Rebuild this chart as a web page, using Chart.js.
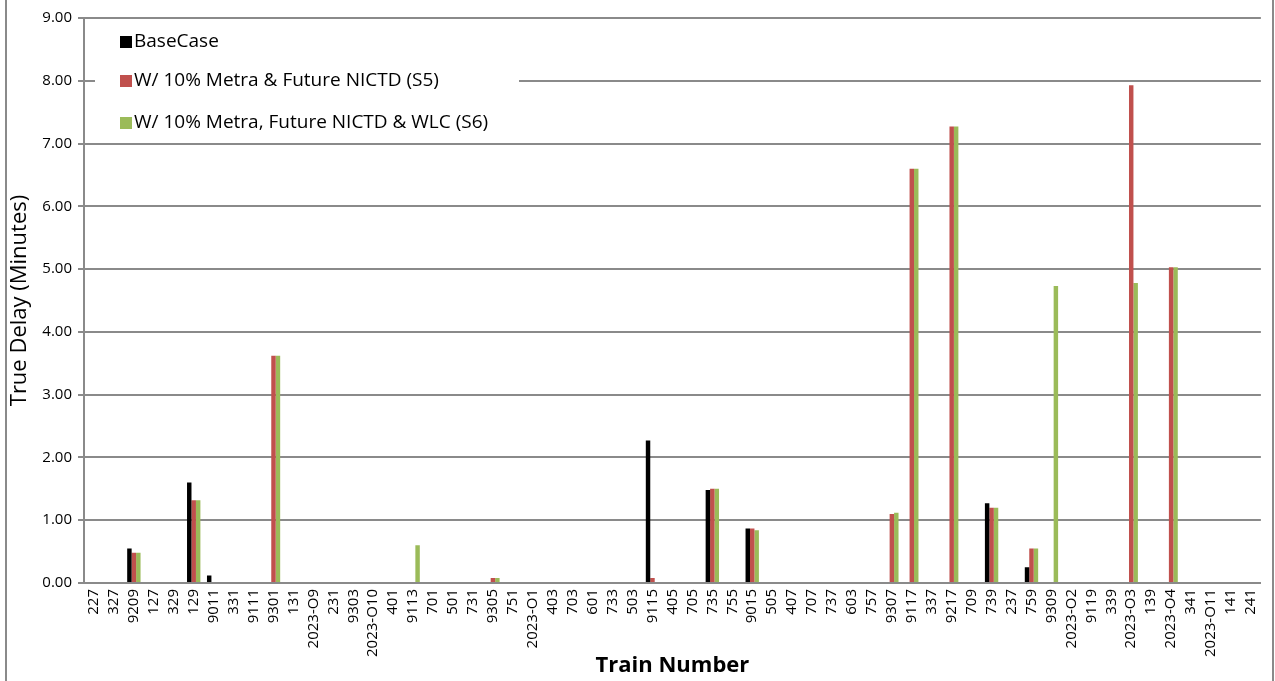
<!DOCTYPE html>
<html>
<head>
<meta charset="utf-8">
<script src="https://cdn.jsdelivr.net/npm/chart.js@4/dist/chart.umd.min.js"></script>
<style>
  html, body { margin: 0; padding: 0; background: #fff; }
  #wrap { width: 1275px; height: 681px; position: relative; }
</style>
</head>
<body>
<div id="wrap"><canvas id="c" width="1275" height="681"></canvas></div>
<script>
const categories = ["227","327","9209","127","329","129","9011","331","9111","9301","131","2023-O9","231","9303","2023-O10","401","9113","701","501","731","9305","751","2023-O1","403","703","601","733","503","9115","405","705","735","755","9015","505","407","707","737","603","757","9307","9117","337","9217","709","739","237","759","9309","2023-O2","9119","339","2023-O3","139","2023-O4","341","2023-O11","141","241"];

const seriesNames = ["BaseCase", "W/ 10% Metra & Future NICTD (S5)", "W/ 10% Metra, Future NICTD & WLC (S6)"];

const baseCase = [0,0,0.55,0,0,1.60,0.12,0,0,0,0,0,0,0,0,0,0,0,0,0,0,0,0,0,0,0,0,0,2.27,0,0,1.48,0,0.87,0,0,0,0,0,0,0,0,0,0,0,1.27,0,0.25,0,0,0,0,0,0,0,0,0,0,0];
const s5 =       [0,0,0.48,0,0,1.32,0,0,0,3.62,0,0,0,0,0,0,0,0,0,0,0.08,0,0,0,0,0,0,0,0.08,0,0,1.50,0,0.87,0,0,0,0,0,0,1.10,6.60,0,7.27,0,1.20,0,0.55,0,0,0,0,7.93,0,5.03,0,0,0,0];
const s6 =       [0,0,0.48,0,0,1.32,0,0,0,3.62,0,0,0,0,0,0,0.60,0,0,0,0.08,0,0,0,0,0,0,0,0,0,0,1.50,0,0.84,0,0,0,0,0,0,1.12,6.60,0,7.27,0,1.20,0,0.55,4.73,0,0,0,4.78,0,5.03,0,0,0,0];

const yTicks = [0,1,2,3,4,5,6,7,8,9];
const yTitle = "True Delay (Minutes)";
const xTitle = "Train Number";

const colors = ["#000000", "#C0504D", "#9BBB59"];
const FONT = "'Open Sans', sans-serif";
const GRID = "#8a8a8a";

const legendPlugin = {
  id: 'insideLegend',
  afterDraw(chart) {
    const ctx = chart.ctx;
    ctx.save();
    ctx.fillStyle = "#ffffff";
    ctx.fillRect(95, 26, 424, 110);
    const ys = [42, 81, 123];
    ctx.font = "19px " + FONT;
    ctx.textBaseline = "middle";
    chart.data.datasets.forEach((ds, i) => {
      ctx.fillStyle = ds.backgroundColor;
      ctx.fillRect(120, ys[i] - 6, 12, 12);
      ctx.fillStyle = "#000";
      ctx.fillText(ds.label, 134, ys[i]);
    });
    // outer frame lines
    ctx.strokeStyle = "#8a8a8a";
    ctx.lineWidth = 2;
    ctx.beginPath();
    ctx.moveTo(6, 0); ctx.lineTo(6, 681);
    ctx.moveTo(1273, 0); ctx.lineTo(1273, 681);
    ctx.stroke();
    ctx.restore();
  }
};

new Chart(document.getElementById('c'), {
  type: 'bar',
  data: {
    labels: categories,
    datasets: [
      { label: seriesNames[0], data: baseCase, backgroundColor: colors[0] },
      { label: seriesNames[1], data: s5, backgroundColor: colors[1] },
      { label: seriesNames[2], data: s6, backgroundColor: colors[2] }
    ]
  },
  options: {
    responsive: false,
    animation: false,
    devicePixelRatio: 1,
    layout: { padding: { left: 0, top: 18, right: 12, bottom: 0 } },
    datasets: { bar: { categoryPercentage: 0.67, barPercentage: 1.0 } },
    plugins: {
      legend: { display: false },
      tooltip: { enabled: false }
    },
    scales: {
      x: {
        grid: { display: false, drawTicks: false },
        border: { color: GRID, width: 2 },
        ticks: {
          autoSkip: false, maxRotation: 90, minRotation: 90,
          color: "#000", padding: 6,
          font: { family: FONT, size: 15 }
        },
        title: {
          display: true, text: xTitle, color: "#000",
          font: { family: FONT, size: 22, weight: 'bold' },
          padding: { top: 0, bottom: 2 }
        },
        afterFit(scale) { scale.height = 98; }
      },
      y: {
        min: 0, max: 9,
        afterBuildTicks(scale) { scale.ticks = yTicks.map(v => ({ value: v })); },
        grid: { color: GRID, lineWidth: 2, tickLength: 6, tickColor: GRID },
        border: { color: GRID, width: 2 },
        ticks: {
          color: "#000", padding: 6,
          font: { family: FONT, size: 15 },
          callback: (v) => Number(v).toFixed(2)
        },
        title: {
          display: true, text: yTitle, color: "#000",
          font: { family: FONT, size: 22 },
          padding: { top: 7, bottom: 0 }
        },
        afterFit(scale) { scale.width = 84; }
      }
    }
  },
  plugins: [legendPlugin]
});
</script>
</body>
</html>
